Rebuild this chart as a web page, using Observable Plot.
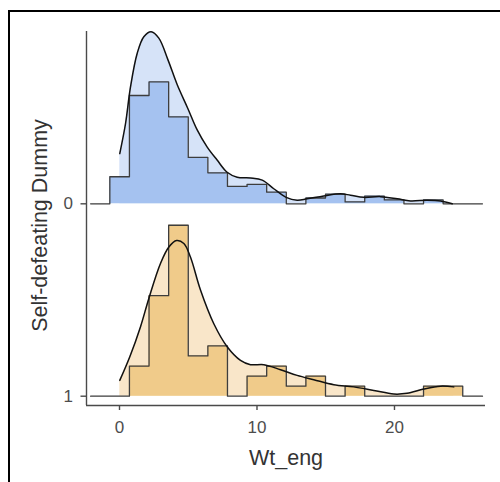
<!DOCTYPE html>
<html><head><meta charset="utf-8">
<script src="https://cdn.jsdelivr.net/npm/d3@7"></script>
<script src="https://cdn.jsdelivr.net/npm/@observablehq/plot@0.6"></script>
<style>
body{margin:0;background:#fff;overflow:hidden;}
#wrap{position:relative;width:500px;height:482px;}
#border{position:absolute;left:8px;top:10px;width:600px;height:600px;border-left:2.5px solid #000;border-top:2.5px solid #000;pointer-events:none;}
</style></head><body><div id="wrap"><div id="chart"></div><div id="border"></div></div>
<script>
// ---- data ----
const groups = ["0", "1"];
const binStart = -0.703;
const binWidth = 1.426;
const counts0 = [14, 56, 63, 45, 24, 16, 9, 10, 6, 0, 3, 5, 1, 4, 2, 0, 2, 0];
const counts1 = [0, 3, 10, 17, 4, 5, 0, 2, 3, 1, 2, 0, 1, 0, 0, 0, 1, 1];
const densX0 = [0.02, 0.44, 0.8, 1.29, 1.77, 2.3, 2.86, 3.54, 4.2, 4.97, 5.65, 6.38, 7.1, 7.83, 8.56, 9.53, 10.38, 11.22, 12.12, 12.92, 13.65, 14.86, 16.07, 16.8, 17.77, 18.98, 20.2, 21.16, 22.38, 23.35, 24.2];
const densY0 = [0.070, 0.112, 0.163, 0.210, 0.233, 0.240, 0.231, 0.200, 0.166, 0.133, 0.103, 0.079, 0.061, 0.044, 0.037, 0.036, 0.033, 0.021, 0.009, 0.005, 0.007, 0.011, 0.014, 0.012, 0.009, 0.010, 0.007, 0.004, 0.005, 0.004, 0.000];
const densX1 = [0.02, 0.75, 1.53, 2.13, 2.98, 3.59, 4.15, 4.68, 5.16, 5.89, 6.86, 7.83, 8.8, 9.53, 10.5, 11.71, 12.92, 14.13, 15.59, 17.04, 18.5, 19.95, 20.92, 22.13, 23.35, 24.31];
const densY1 = [0.022, 0.055, 0.097, 0.136, 0.185, 0.208, 0.217, 0.213, 0.194, 0.148, 0.101, 0.069, 0.050, 0.044, 0.044, 0.037, 0.029, 0.023, 0.016, 0.013, 0.008, 0.003, 0.004, 0.010, 0.014, 0.013];
const xTicks = [0, 10, 20];
const xTitle = "Wt_eng";
const yTitle = "Self-defeating Dummy";

// ---- layout / style ----
const xDomain = [-2.4, 26.62];
const yDomain = [-0.01297, 0.5086];
const ridgeOffset = {"0": 0.2683, "1": 0};
const lineExtent = [-2.1, 26.4];
const fills = {"0": {light: "#d6e3f8", dark: "#a5c2f0"}, "1": {light: "#f9e6c9", dark: "#f0cb8a"}};

const counts = {"0": counts0, "1": counts1};
const dens = {"0": [densX0, densY0], "1": [densX1, densY1]};

const marks = [];
for (const g of groups) {
  const off = ridgeOffset[g];
  const c = counts[g];
  const n = d3.sum(c);
  const outline = [{x: lineExtent[0], y: off}];
  c.forEach((v, i) => outline.push({x: binStart + i * binWidth, y: off + v / (n * binWidth)}));
  outline.push({x: binStart + c.length * binWidth, y: off});
  outline.push({x: lineExtent[1], y: off});
  const [dx, dy] = dens[g];
  const dd = dx.map((x, i) => ({x, y: off + dy[i]}));
  marks.push(
    Plot.areaY(dd, {x: "x", y1: off, y2: "y", fill: fills[g].light, curve: "catmull-rom"}),
    Plot.areaY(outline, {x: "x", y1: off, y2: "y", fill: fills[g].dark, curve: "step-after"}),
    Plot.line(outline, {x: "x", y: "y", stroke: "#3d3d3d", strokeWidth: 1.3, curve: "step-after"}),
    Plot.line(dd, {x: "x", y: "y", stroke: "#111", strokeWidth: 1.5, curve: "catmull-rom"})
  );
}

const chart = Plot.plot({
  width: 500,
  height: 482,
  marginTop: 31,
  marginBottom: 77,
  marginLeft: 86,
  marginRight: 15,
  style: {fontFamily: "'Liberation Sans', Arial, sans-serif", background: "#fff"},
  x: {domain: xDomain, axis: null},
  y: {domain: yDomain, axis: null},
  marks: [
    ...marks,
    Plot.ruleX([xDomain[0]], {stroke: "#4a4a4a", strokeWidth: 1.4}),
    Plot.ruleY([yDomain[0]], {stroke: "#4a4a4a", strokeWidth: 1.4}),
    Plot.axisX(xTicks, {tickSize: 5, tickPadding: 10.5, fontSize: 17, stroke: "#4a4a4a", strokeWidth: 1.4, fill: "#4d4d4d", label: null}),
    Plot.axisY(groups.map(g => ridgeOffset[g]), {tickSize: 5.5, tickPadding: 8, fontSize: 17, stroke: "#4a4a4a", strokeWidth: 1.4, fill: "#4d4d4d", label: null,
      tickFormat: d => groups.find(g => ridgeOffset[g] === d)}),
    Plot.text([xTitle], {text: d => d, frameAnchor: "bottom", dy: 53, fontSize: 21.5, lineAnchor: "middle", fill: "#333"}),
    Plot.text([yTitle], {text: d => d, frameAnchor: "left", rotate: -90, dx: -46, dy: 7, fontSize: 21.5, lineAnchor: "middle", textAnchor: "middle", fill: "#333"})
  ]
});
document.getElementById("chart").appendChild(chart);
</script></body></html>
